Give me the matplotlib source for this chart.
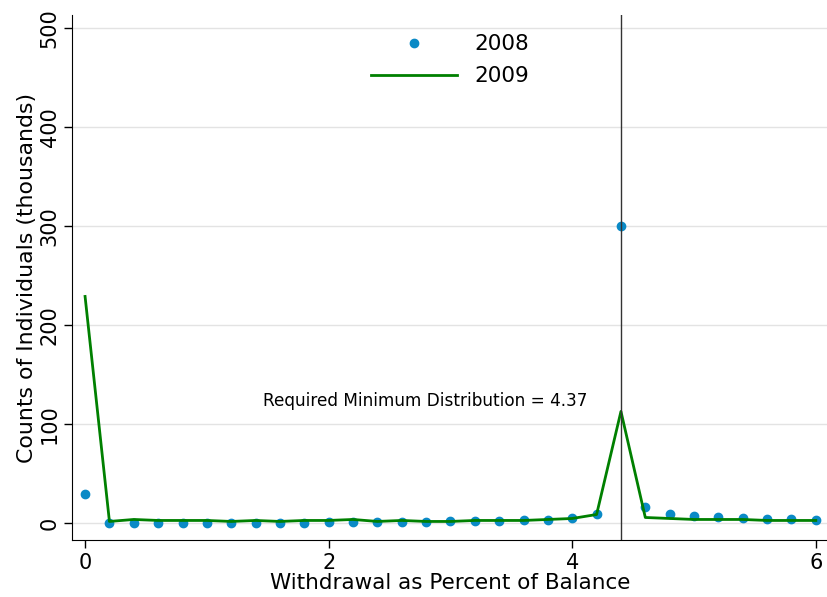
import matplotlib
matplotlib.use('Agg')
import matplotlib.pyplot as plt
import numpy as np

# withdrawal bins (percent of balance)
pct = [0.0, 0.2, 0.4, 0.6, 0.8, 1.0, 1.2, 1.4, 1.6, 1.8, 2.0, 2.2, 2.4, 2.6, 2.8,
       3.0, 3.2, 3.4, 3.6, 3.8, 4.0, 4.2, 4.4, 4.6, 4.8, 5.0, 5.2, 5.4, 5.6, 5.8, 6.0]

# counts in thousands
y2008 = [30, 0, 0, 0, 0, 0, 0, 0, 0, 0, 1, 1, 1, 1, 1,
         2, 2, 2, 3, 3, 5, 10, 300, 17, 10, 7, 6, 5, 4, 4, 3]
y2009 = [229, 2, 4, 3, 3, 3, 2, 3, 2, 3, 3, 4, 2, 3, 2,
         2, 3, 3, 3, 4, 5, 9, 113, 6, 5, 4, 4, 4, 3, 3, 3]

rmd_line = 4.4
rmd_label = 'Required Minimum Distribution = 4.37'

C_2008 = '#0a8ac6'
C_2009 = '#008000'

fig = plt.figure(figsize=(8.28, 5.97), dpi=100)
ax = fig.add_axes([0.087, 0.095, 0.913, 0.88])

ax.grid(axis='y', color='#e3e3e3', linewidth=1)
ax.set_axisbelow(True)

ax.plot(pct, y2008, 'o', color=C_2008, markersize=6, label='2008')
ax.plot(pct, y2009, '-', color=C_2009, linewidth=2, label='2009')
ax.axvline(rmd_line, color='#333333', linewidth=1)
ax.text(2.79, 124, rmd_label, fontsize=12.2, ha='center', va='center', color='black')

ax.set_xlim(-0.107, 6.1)
ax.set_ylim(-17, 513)
ax.set_xticks([0, 2, 4, 6])
ax.set_yticks([0, 100, 200, 300, 400, 500])
ax.tick_params(labelsize=15, length=6, width=1, pad=3)
for lbl in ax.get_yticklabels():
    lbl.set_rotation(90)
    lbl.set_va('center')

ax.set_xlabel('Withdrawal as Percent of Balance', fontsize=15.5, labelpad=0)
ax.set_ylabel('Counts of Individuals (thousands)', fontsize=15.8, labelpad=2)

ax.spines['top'].set_visible(False)
ax.spines['right'].set_visible(False)

ax.legend(loc='upper center', bbox_to_anchor=(0.5, 1.0), frameon=False,
          fontsize=15.5, handlelength=4, labelspacing=0.55)

fig.savefig('out.png', dpi=100)
